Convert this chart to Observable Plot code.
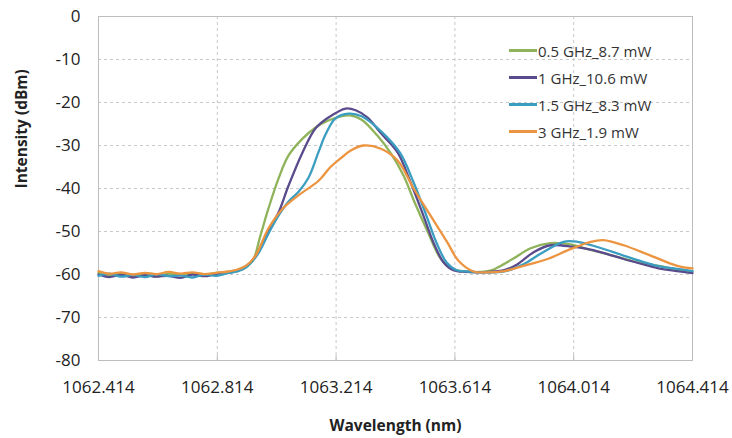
<!DOCTYPE html>
<html>
<head>
<meta charset="utf-8">
<script src="https://cdn.jsdelivr.net/npm/d3@7"></script>
<script src="https://cdn.jsdelivr.net/npm/@observablehq/plot@0.6"></script>
<style>
  html, body { margin: 0; padding: 0; background: #fff; }
  #wrap { position: relative; width: 732px; height: 438px; font-family: "Open Sans", sans-serif; }
  #legend { position: absolute; left: 509px; top: 37px; font-size: 15px; color: #333; }
  #legend .row { display: flex; align-items: center; height: 27px; }
  #legend .sw { width: 28px; height: 3px; margin-right: 1px; }
</style>
</head>
<body>
<div id="wrap"><div id="legend"></div></div>
<script>
const seriesNames = ["0.5 GHz_8.7 mW", "1 GHz_10.6 mW", "1.5 GHz_8.3 mW", "3 GHz_1.9 mW"];
const seriesColors = ["#8fb35a", "#5a4b8c", "#3b9dc0", "#ec9440"];

const xTicks = [1062.414, 1062.814, 1063.214, 1063.614, 1064.014, 1064.414];
const yTicks = [0, -10, -20, -30, -40, -50, -60, -70, -80];

// 0.5 GHz_8.7 mW
const wl05 = [1062.414, 1062.45, 1062.49, 1062.53, 1062.57, 1062.61, 1062.65, 1062.69, 1062.73, 1062.77, 1062.81, 1062.85, 1062.88, 1062.91, 1062.933, 1062.959, 1062.986, 1063.020, 1063.054, 1063.101, 1063.145, 1063.188, 1063.230, 1063.262, 1063.300, 1063.353, 1063.400, 1063.441, 1063.480, 1063.522, 1063.566, 1063.609, 1063.65, 1063.70, 1063.74, 1063.768, 1063.811, 1063.869, 1063.936, 1064.003, 1064.071, 1064.13, 1064.182, 1064.24, 1064.30, 1064.36, 1064.414];
const db05 = [-59.6, -60.2, -59.9, -60.4, -60.0, -60.5, -59.8, -60.2, -59.7, -60.1, -59.6, -59.4, -59.0, -58.0, -56.8, -51.0, -44.7, -37.7, -32.3, -28.4, -25.8, -24.2, -23.2, -23.0, -24.0, -27.7, -32.0, -37.0, -43.5, -50.0, -56.3, -58.8, -59.3, -59.4, -59.0, -58.0, -56.3, -53.9, -52.7, -53.0, -54.3, -55.3, -56.3, -57.3, -58.0, -58.8, -59.3];

// 1 GHz_10.6 mW
const wl1 = [1062.414, 1062.45, 1062.49, 1062.53, 1062.57, 1062.61, 1062.65, 1062.69, 1062.73, 1062.77, 1062.81, 1062.85, 1062.88, 1062.91, 1062.95, 1062.986, 1063.020, 1063.054, 1063.101, 1063.145, 1063.188, 1063.246, 1063.280, 1063.320, 1063.363, 1063.421, 1063.465, 1063.508, 1063.542, 1063.576, 1063.609, 1063.65, 1063.70, 1063.78, 1063.825, 1063.879, 1063.936, 1064.013, 1064.071, 1064.13, 1064.182, 1064.24, 1064.296, 1064.35, 1064.414];
const db1 = [-60.0, -60.6, -60.1, -60.7, -60.2, -60.5, -60.3, -60.8, -60.0, -60.4, -59.9, -59.6, -59.2, -58.3, -55.0, -50.0, -45.6, -39.3, -31.6, -26.0, -23.5, -21.4, -21.8, -23.5, -27.0, -31.6, -38.6, -46.3, -52.6, -57.2, -59.0, -59.4, -59.5, -59.0, -57.6, -54.8, -53.2, -53.6, -54.2, -55.3, -56.4, -57.5, -58.5, -59.1, -59.7];

// 1.5 GHz_8.3 mW
const wl15 = [1062.414, 1062.45, 1062.49, 1062.53, 1062.57, 1062.61, 1062.65, 1062.69, 1062.73, 1062.77, 1062.81, 1062.85, 1062.88, 1062.91, 1062.95, 1062.986, 1063.020, 1063.054, 1063.087, 1063.121, 1063.155, 1063.178, 1063.212, 1063.256, 1063.300, 1063.370, 1063.430, 1063.475, 1063.518, 1063.552, 1063.586, 1063.620, 1063.66, 1063.70, 1063.78, 1063.845, 1063.902, 1063.980, 1064.027, 1064.094, 1064.182, 1064.24, 1064.296, 1064.35, 1064.414];
const db15 = [-60.3, -59.8, -60.5, -60.1, -60.6, -59.9, -60.4, -60.2, -60.7, -60.0, -60.3, -59.7, -59.3, -58.4, -55.3, -50.5, -46.3, -43.0, -40.8, -37.5, -31.5, -27.5, -23.7, -22.6, -23.2, -27.0, -31.8, -38.6, -46.3, -52.6, -57.2, -59.0, -59.3, -59.5, -59.3, -57.6, -55.2, -52.4, -52.4, -53.6, -55.6, -56.9, -58.0, -58.6, -59.2];

// 3 GHz_1.9 mW
const wl3 = [1062.414, 1062.45, 1062.49, 1062.53, 1062.57, 1062.61, 1062.65, 1062.69, 1062.73, 1062.77, 1062.81, 1062.85, 1062.88, 1062.91, 1062.943, 1062.986, 1063.034, 1063.087, 1063.155, 1063.195, 1063.229, 1063.262, 1063.306, 1063.363, 1063.421, 1063.475, 1063.532, 1063.589, 1063.626, 1063.677, 1063.72, 1063.78, 1063.845, 1063.926, 1063.993, 1064.071, 1064.114, 1064.182, 1064.273, 1064.363, 1064.414];
const db3 = [-59.2, -59.8, -59.5, -60.0, -59.6, -59.9, -59.4, -59.8, -59.5, -59.9, -59.6, -59.3, -58.9, -58.0, -55.6, -49.3, -44.7, -41.6, -38.2, -35.0, -33.0, -31.2, -30.0, -30.7, -33.5, -40.0, -46.3, -52.6, -56.8, -59.3, -59.5, -59.2, -58.0, -56.4, -54.4, -52.4, -52.0, -53.2, -55.6, -58.0, -58.6];

const wls = [wl05, wl1, wl15, wl3];
const dbs = [db05, db1, db15, db3];
const rows = [];
seriesNames.forEach((name, i) => {
  wls[i].forEach((w, j) => rows.push({series: name, wl: w, db: dbs[i][j]}));
});

const chart = Plot.plot({
  width: 732,
  height: 438,
  marginTop: 16,
  marginLeft: 98,
  marginRight: 40,
  marginBottom: 78,
  style: {fontFamily: "Open Sans, sans-serif", fontSize: "17px", color: "#222", background: "#fff"},
  x: {domain: [1062.414, 1064.414], label: null},
  y: {domain: [-80, 0], label: null},
  color: {domain: seriesNames, range: seriesColors},
  marks: [
    Plot.gridY(yTicks, {stroke: "#c8c8c8", strokeOpacity: 1, strokeDasharray: "3,3"}),
    Plot.gridX(xTicks, {stroke: "#c8c8c8", strokeOpacity: 1, strokeDasharray: "3,3"}),
    Plot.frame({stroke: "#bdbdbd"}),
    Plot.axisX(xTicks, {tickSize: -5, tickPadding: 25, anchor: "bottom", stroke: "#bdbdbd", tickFormat: d3.format(".3f"), fontSize: 17}),
    Plot.axisY(yTicks, {tickSize: 0, tickPadding: 18, anchor: "left", fontSize: 17, tickFormat: d => String(d)}),
    Plot.text(["Wavelength (nm)"], {frameAnchor: "bottom", dy: 70, fontWeight: "bold", fontSize: 15.5}),
    Plot.text(["Intensity (dBm)"], {frameAnchor: "left", dx: -76, rotate: -90, fontWeight: "bold", fontSize: 15.5}),
    Plot.line(rows, {x: "wl", y: "db", z: "series", stroke: "series", strokeWidth: 2.3, curve: "catmull-rom"})
  ]
});
document.getElementById("wrap").prepend(chart);

const legend = document.getElementById("legend");
seriesNames.forEach((name, i) => {
  const row = document.createElement("div");
  row.className = "row";
  const sw = document.createElement("div");
  sw.className = "sw";
  sw.style.background = seriesColors[i];
  const t = document.createElement("span");
  t.textContent = name;
  row.appendChild(sw);
  row.appendChild(t);
  legend.appendChild(row);
});
</script>
</body>
</html>
